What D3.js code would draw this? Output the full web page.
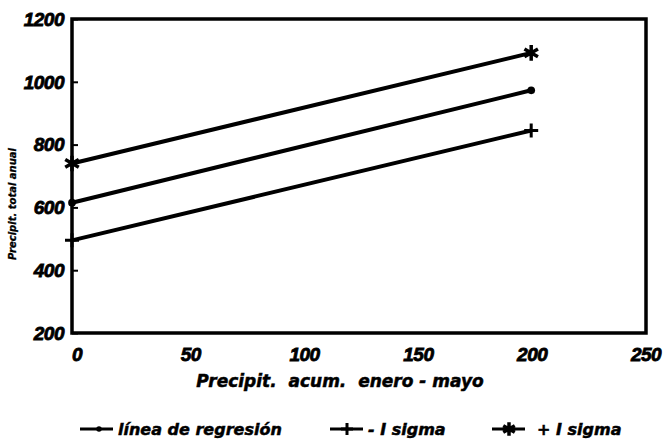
<!DOCTYPE html>
<html>
<head>
<meta charset="utf-8">
<script src="https://cdn.jsdelivr.net/npm/d3@7/dist/d3.min.js"></script>
<style>
  body { margin: 0; background: #fff; }
  text { font-family: "DejaVu Sans", sans-serif; font-weight: bold; font-style: italic; fill: #000; stroke: #000; stroke-width: 0.5px; white-space: pre; }
  text.num { font-family: "Liberation Sans", Arial, sans-serif; stroke-width: 0.8px; }
</style>
</head>
<body>
<div id="chart"></div>
<script>
// data
var xValues = [0, 200];
var regresion = [615, 973];
var menosSigma = [495, 845];
var masSigma = [740, 1092];
var xTicks = [0, 50, 100, 150, 200, 250];
var yTicks = [200, 400, 600, 800, 1000, 1200];
var seriesNames = ["línea de regresión", "- I sigma", "+ I sigma"];

var series = [
  {name: seriesNames[0], values: regresion, marker: "dot"},
  {name: seriesNames[1], values: menosSigma, marker: "plus"},
  {name: seriesNames[2], values: masSigma, marker: "star"}
];

var width = 668, height = 441;
var margin = {top: 19, right: 22, bottom: 108, left: 72};

var svg = d3.select("#chart").append("svg")
  .attr("width", width)
  .attr("height", height);

var xScale = d3.scaleLinear()
  .domain([0, 250])
  .range([margin.left, width - margin.right]);

// the hand lettered "0" sits a little right of the corner
var xLabelScale = d3.scaleLinear()
  .domain([0, 250])
  .range([margin.left + 5, width - margin.right]);

var yScale = d3.scaleLinear()
  .domain([200, 1200])
  .range([height - margin.bottom, margin.top]);

// frame
svg.append("rect")
  .attr("x", xScale(0))
  .attr("y", yScale(1200))
  .attr("width", xScale(250) - xScale(0))
  .attr("height", yScale(200) - yScale(1200))
  .attr("fill", "none")
  .attr("stroke", "#000")
  .attr("stroke-width", 3.5);

// y axis ticks
var yAxis = svg.append("g")
  .attr("transform", "translate(" + xScale(0) + ",0)")
  .call(d3.axisRight(yScale).tickValues(yTicks).tickSize(6).tickFormat(""));
yAxis.select(".domain").remove();
yAxis.selectAll(".tick line").attr("stroke-width", 2);

svg.selectAll(".ylab")
  .data(yTicks)
  .enter().append("text")
  .attr("class", "num")
  .attr("x", xScale(0) - 8)
  .attr("y", function(d) { return yScale(d); })
  .attr("dy", "0.36em")
  .attr("text-anchor", "end")
  .style("font-size", "19px")
  .style("letter-spacing", "-0.5px")
  .text(function(d) { return d; });

// x axis labels
svg.selectAll(".xlab")
  .data(xTicks)
  .enter().append("text")
  .attr("class", "num")
  .attr("x", function(d) { return xLabelScale(d); })
  .attr("y", yScale(200) + 28)
  .attr("text-anchor", "middle")
  .style("font-size", "19px")
  .style("letter-spacing", "-0.5px")
  .text(function(d) { return d; });

// axis titles
svg.append("text")
  .attr("x", 340)
  .attr("y", yScale(200) + 54)
  .attr("text-anchor", "middle")
  .style("font-size", "17px")
  .text("Precipit.  acum.  enero - mayo");

svg.append("text")
  .attr("transform", "translate(16,204) rotate(-90)")
  .attr("text-anchor", "middle")
  .style("font-size", "10px")
  .style("stroke-width", "0.3px")
  .text("Precipit. total anual");

// lines
var line = d3.line()
  .x(function(d, i) { return xScale(xValues[i]); })
  .y(function(d) { return yScale(d); });

series.forEach(function(s) {
  svg.append("path")
    .datum(s.values)
    .attr("d", line)
    .attr("fill", "none")
    .attr("stroke", "#000")
    .attr("stroke-width", 4);
});

// markers
function drawMarker(g, type, size) {
  if (type === "dot") {
    g.append("circle").attr("r", size * 0.55).attr("fill", "#000");
  } else if (type === "plus") {
    g.append("path")
      .attr("d", "M" + (-size) + ",0H" + size + "M0," + (-size) + "V" + size)
      .attr("stroke", "#000").attr("stroke-width", 3);
  } else {
    g.append("path")
      .attr("d", d3.symbol().type(d3.symbolAsterisk).size(size * size * 3.5)())
      .attr("stroke", "#000").attr("stroke-width", 3.5).attr("fill", "none");
  }
}

series.forEach(function(s) {
  s.values.forEach(function(v, i) {
    var g = svg.append("g")
      .attr("transform", "translate(" + xScale(xValues[i]) + "," + yScale(v) + ")");
    drawMarker(g, s.marker, 7);
  });
});

// legend
var legendX = [80, 330, 492];
var legend = svg.selectAll(".legend")
  .data(series)
  .enter().append("g")
  .attr("class", "legend")
  .attr("transform", function(d, i) { return "translate(" + legendX[i] + ",429)"; });

legend.append("line")
  .attr("x1", 0).attr("x2", 33)
  .attr("stroke", "#000").attr("stroke-width", 3);

legend.each(function(d) {
  var g = d3.select(this).append("g")
    .attr("transform", "translate(" + (d.marker === "dot" ? 19 : 17) + ",0)");
  drawMarker(g, d.marker, d.marker === "dot" ? 5 : 6);
});

legend.append("text")
  .attr("x", function(d) { return d.marker === "star" ? 45 : 38; })
  .attr("dy", "0.36em")
  .style("font-size", "16px")
  .text(function(d) { return d.name; });
</script>
</body>
</html>
